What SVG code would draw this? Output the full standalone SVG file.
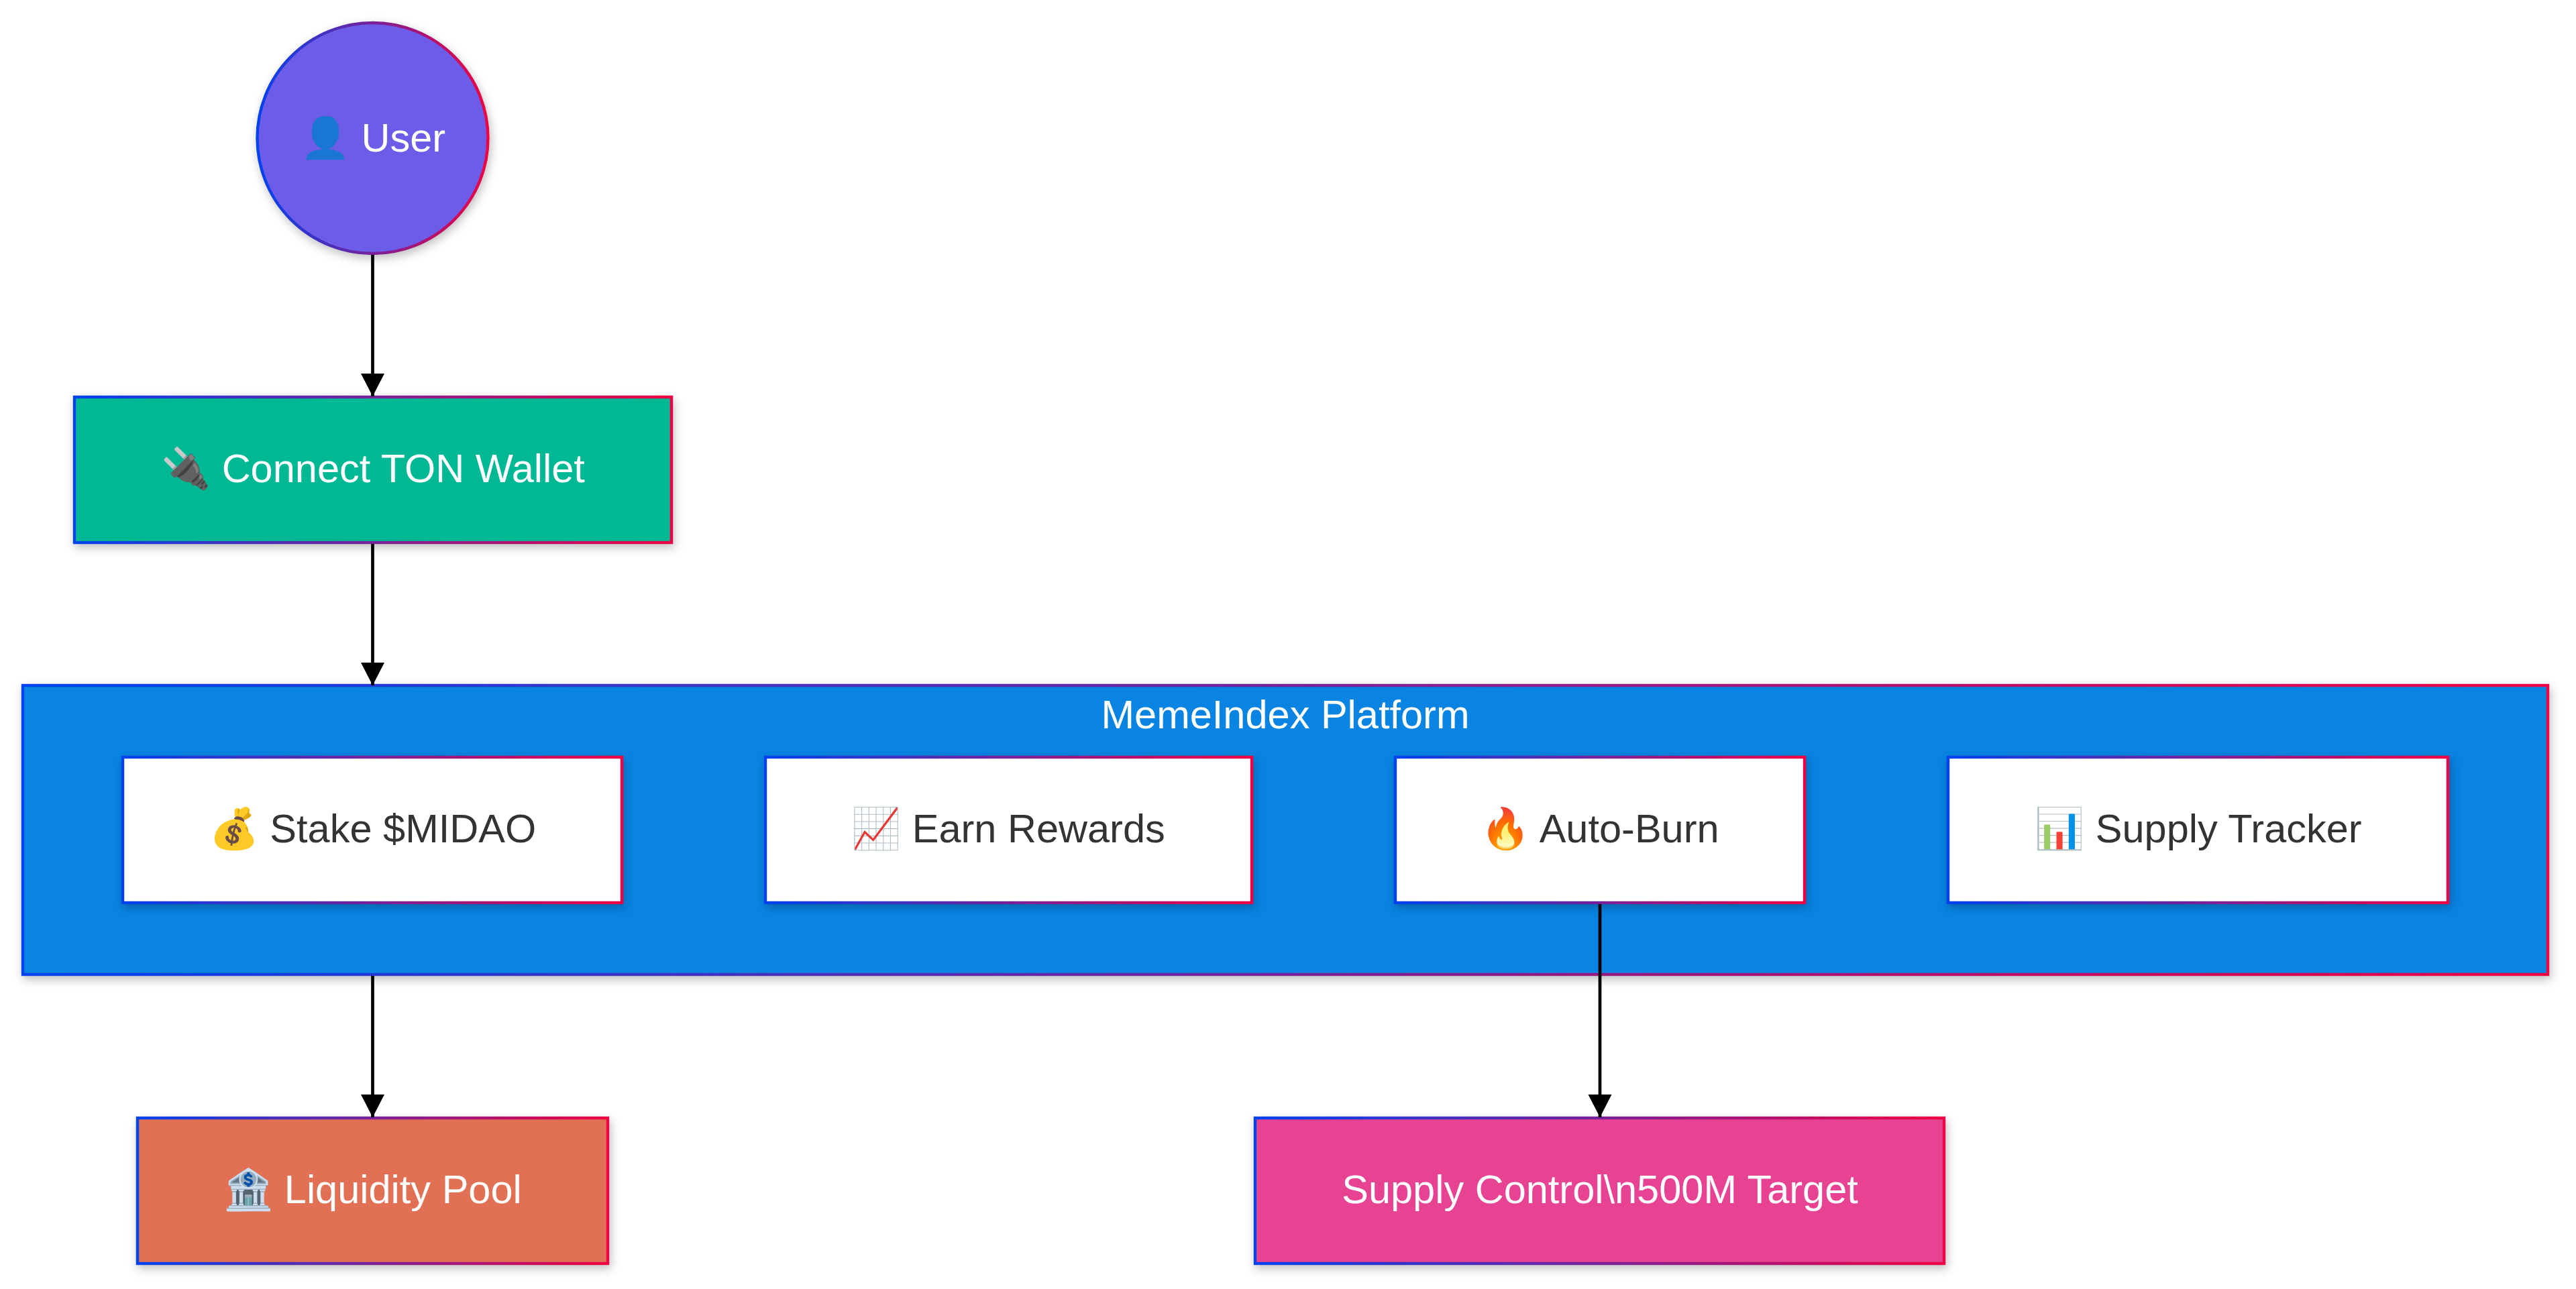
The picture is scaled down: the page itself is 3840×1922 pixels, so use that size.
<svg xmlns="http://www.w3.org/2000/svg" width="3840" height="1922" viewBox="0 0 3840 1922">
<defs>
<linearGradient id="g"><stop offset="0" stop-color="#0042f0"/><stop offset="1" stop-color="#f00042"/></linearGradient>
<filter id="s" x="-10%" y="-15%" width="120%" height="135%" color-interpolation-filters="sRGB"><feDropShadow dx="2.4" dy="5.500" stdDeviation="7" flood-color="#000" flood-opacity="0.25"/></filter>
<marker id="arrow" markerUnits="userSpaceOnUse" markerWidth="36" markerHeight="36" refX="34" refY="17.500" orient="auto"><path d="M0 0L34 17.500L0 35z" fill="#000"/></marker>
<style>
.n{stroke:url(#g);stroke-width:4.400;filter:url(#s)}
text{font-family:"Liberation Sans",Arial,sans-serif;font-size:59.500px;text-anchor:middle}
.w{fill:#fff}
.d{fill:#333}
.e{fill:none;stroke:#000;stroke-width:4.700;marker-end:url(#arrow)}
</style>
</defs>
<rect width="3840" height="1922" fill="#fff"/>
<g id="cluster-platform"><rect class="n" x="34" y="1022" width="3764" height="431" fill="#0984e3"/><text class="w" x="1916" y="1086">MemeIndex Platform</text></g>
<g id="node-user"><circle class="n" cx="555.500" cy="206" r="172" fill="#6c5ce7"/><text class="w" x="556" y="226">👤 User</text></g>
<g id="node-wallet"><rect class="n" x="111" y="592" width="890" height="217" fill="#00b894"/><text class="w" x="556" y="719">🔌 Connect TON Wallet</text></g>
<g id="node-stake"><rect class="n" x="183" y="1129" width="744" height="217" fill="#fff"/><text class="d" x="555.500" y="1256">💰 Stake $MIDAO</text></g>
<g id="node-earn"><rect class="n" x="1141" y="1129" width="725" height="217" fill="#fff"/><text class="d" x="1503" y="1256">📈 Earn Rewards</text></g>
<g id="node-burn"><rect class="n" x="2080" y="1129" width="610" height="217" fill="#fff"/><text class="d" x="2385" y="1256">🔥 Auto-Burn</text></g>
<g id="node-tracker"><rect class="n" x="2904" y="1129" width="745" height="217" fill="#fff"/><text class="d" x="3277" y="1256">📊 Supply Tracker</text></g>
<g id="node-pool"><rect class="n" x="205" y="1667" width="701" height="217" fill="#e17055"/><text class="w" x="555.500" y="1794">🏦 Liquidity Pool</text></g>
<g id="node-supply"><rect class="n" x="1871" y="1667" width="1027" height="217" fill="#e84393"/><text class="w" x="2385" y="1794">Supply Control\n500M Target</text></g>
<g id="connectors">
<path class="e" d="M555.500 380V591"/>
<path class="e" d="M555.500 811V1022"/>
<path class="e" d="M555.500 1455V1666"/>
<path class="e" d="M2385 1348V1666"/>
</g>
</svg>
